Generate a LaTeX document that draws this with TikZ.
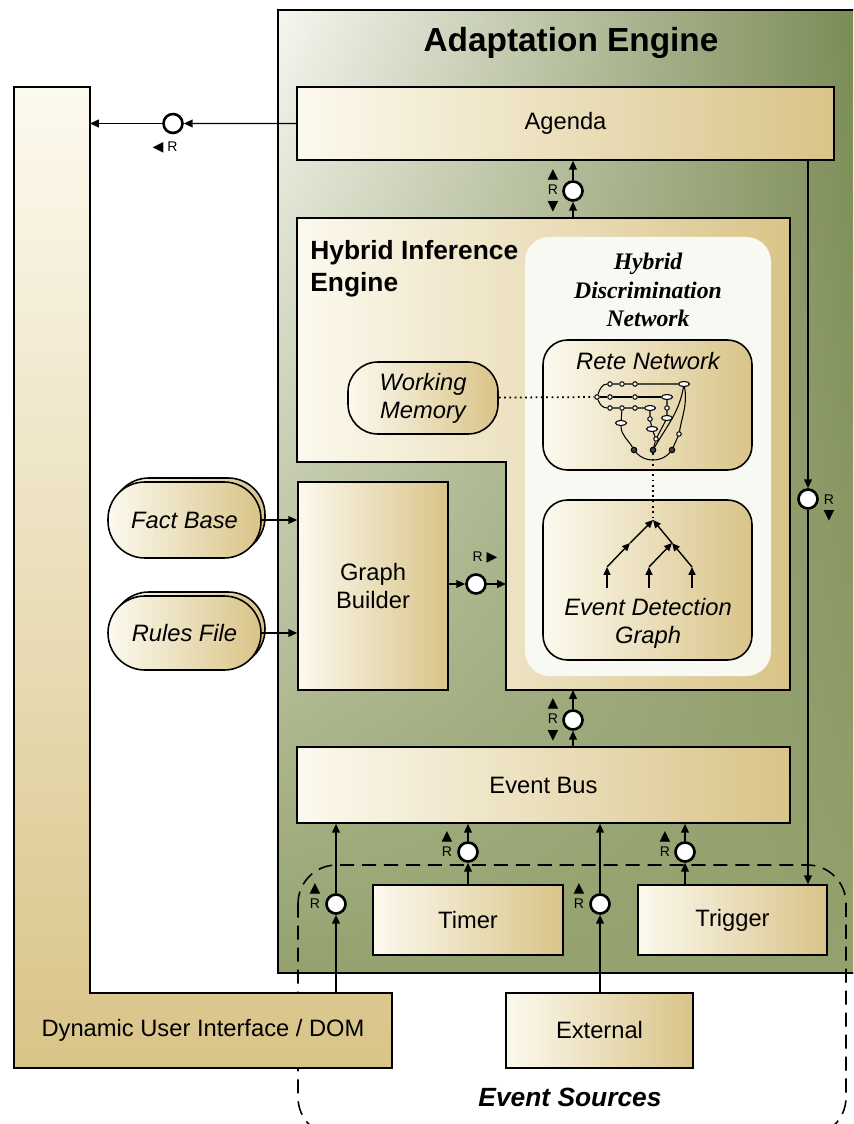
\documentclass[tikz,border=0pt]{standalone}
\usepackage{fontspec}
\setmainfont{Liberation Sans}
\newfontfamily\netfont{Liberation Serif}
\newfontfamily\symfont{DejaVu Sans}
\usetikzlibrary{arrows.meta,fit,fadings,shapes.geometric}

\definecolor{creamc}{RGB}{252,249,238}
\definecolor{tanc}{RGB}{217,196,136}
\definecolor{olivec}{RGB}{148,162,110}
\definecolor{olivedark}{RGB}{120,137,82}
\definecolor{enginelight}{RGB}{247,247,240}
\definecolor{netwhite}{RGB}{249,249,243}

\newcommand{\boxfont}{\fontsize{13.5}{16}\selectfont}
\newcommand{\triup}{{\symfont\fontsize{8}{9}\selectfont ▲}}
\newcommand{\tridown}{{\symfont\fontsize{8}{9}\selectfont ▼}}
\newcommand{\trileft}{{\symfont\fontsize{8}{9}\selectfont ◀}}
\newcommand{\triright}{{\symfont\fontsize{8}{9}\selectfont ▶}}

\begin{document}
\begin{tikzpicture}[x=0.02cm, y=-0.02cm,
  box/.style={draw, line width=0.9pt, left color=creamc, right color=tanc, inner sep=0pt},
  soft/.style={box, rounded corners=14pt},
  txt/.style={font=\boxfont, align=center},
  iface/.style={circle, draw, fill=white, line width=1.5pt, minimum size=0.38cm, inner sep=0pt},
  conn/.style={line width=0.8pt, -{Triangle[length=5pt,width=4.4pt]}},
  lbl/.style={inner sep=0pt, align=center, font=\fontsize{8}{9}\selectfont},
  rn/.style={circle, draw, fill=white, line width=0.6pt, minimum size=0.09cm, inner sep=0pt},
  re/.style={ellipse, draw, fill=white, line width=0.6pt, minimum width=0.22cm, minimum height=0.1cm, inner sep=0pt},
  rb/.style={circle, draw, fill=black!75, line width=0.6pt, minimum size=0.11cm, inner sep=0pt},
  redge/.style={line width=0.6pt},
  egraph/.style={line width=0.8pt, -{Triangle[length=4.5pt,width=4pt]}}]

  \useasboundingbox (0,0) rectangle (853,1124);
  \clip (0,0) rectangle (853,1124);

  % adaptation engine
  \shade[left color=enginelight, right color=olivedark] (278,10) rectangle (870,973);
  \fill[olivec, path fading=north] (278,10) rectangle (870,973);
  \draw[line width=1pt] (870,10) -- (278,10) -- (278,973) -- (870,973);
  \node[font=\bfseries\fontsize{19}{22}\selectfont] (title) at (571,43) {Adaptation Engine};

  % event sources
  \draw[line width=0.9pt, dash pattern=on 8pt off 4.5pt, rounded corners=22pt]
    (298,865) rectangle (846,1136);
  \node[font=\bfseries\itshape\fontsize{15}{18}\selectfont] (srcs) at (570,1097) {Event Sources};

  % user interface
  \draw[line width=0.9pt, top color=creamc, bottom color=tanc]
    (14,87) -- (90,87) -- (90,993) -- (392,993) -- (392,1068) -- (14,1068) -- cycle;
  \node[txt] (dom) at (203,1030) {Dynamic User Interface / DOM};
  \coordinate (domIn) at (90,123.5);
  \coordinate (domTop) at (336,993);

  \node[box, fit={(297,87) (834,160)}] (agenda) {};
  \node[txt] (agendatext) at (agenda) {Agenda};

  % hybrid inference engine
  \draw[line width=0.9pt, left color=creamc, right color=tanc]
    (297,218) -- (790,218) -- (790,690) -- (506,690) -- (506,462) -- (297,462) -- cycle;
  \node[anchor=north west, inner sep=0pt, align=left, font=\bfseries\fontsize{15}{18}\selectfont]
    (hietitle) at (310,240) {Hybrid Inference\\Engine};
  \coordinate (hieTop) at (573,218);
  \coordinate (hieBot) at (573,690);
  \coordinate (hieLeft) at (506,584);

  \node[fill=netwhite, rounded corners=14pt, inner sep=0pt, fit={(525,237) (771,676)}] (hdn) {};
  \node[font=\netfont\bfseries\itshape\fontsize{13.5}{16}\selectfont, align=center]
    (hdntitle) at (648,290) {Hybrid\\Discrimination\\Network};

  \node[soft, fit={(543,340) (752,470)}] (rete) {};
  \node[txt, font=\itshape\boxfont] (retetitle) at (648,361) {Rete Network};
  \node[soft, fit={(543,500) (752,660)}] (edg) {};
  \node[txt, font=\itshape\boxfont] (edgtitle) at (648,623) {Event Detection\\Graph};

  \node[box, rounded corners=17pt, fit={(348,362) (498,434)}] (wm) {};
  \node[txt, font=\itshape\boxfont] (wmtext) at (wm) {Working\\Memory};

  % rete network
  \node[rn] (r0) at (597,397) {};
  \node[rn] (a1) at (610,384) {};
  \node[rn] (a2) at (622,384) {};
  \node[rn] (a3) at (635,384) {};
  \node[re] (a4) at (684,384) {};
  \node[rn] (b1) at (610,397) {};
  \node[rn] (b2) at (635,397) {};
  \node[re] (b3) at (667,397) {};
  \node[rn] (c1) at (610,408) {};
  \node[rn] (c2) at (622,408) {};
  \node[rn] (c3) at (635,408) {};
  \node[re] (c4) at (650,408) {};
  \node[rn] (c5) at (667,408) {};
  \node[re] (d1) at (621,423) {};
  \node[rn] (d2) at (650,419) {};
  \node[re] (d3) at (667,418) {};
  \node[re] (e1) at (652,429) {};
  \node[rn] (f1) at (656,439) {};
  \node[rn] (f2) at (679,434) {};
  \node[rb] (g1) at (634,450) {};
  \node[rb] (g2) at (653,450) {};
  \node[rb] (g3) at (672,450) {};
  \draw[redge] (r0) to[out=70,in=180] (a1) (a1) -- (a2) -- (a3) -- (a4);
  \draw[redge] (r0) -- (b1) -- (b2) -- (b3);
  \draw[redge] (r0) to[out=-70,in=180] (c1) (c1) -- (c2) -- (c3) -- (c4);
  \draw[redge] (c2) -- (d1) (d1) to[out=-90,in=120] (g1);
  \draw[redge] (c4) -- (d2) -- (e1) -- (f1) -- (g2);
  \draw[redge] (b3) -- (c5) -- (d3) -- (f1);
  \draw[redge] (a4) to[out=-80,in=80] (f2) (f2) -- (g3);
  \draw[redge] (a4) to[out=-100,in=60] (g2);
  \draw[redge] (g1) to[out=-50,in=-130] (g3);

  % event detection graph
  \coordinate (eTop) at (653,520);
  \coordinate (eMid) at (672,543);
  \coordinate (eLeft) at (630,543);
  \coordinate (l1) at (607,567);
  \coordinate (l2) at (649,567);
  \coordinate (l3) at (692,567);
  \draw[egraph] (607,588) -- (l1);
  \draw[egraph] (649,588) -- (l2);
  \draw[egraph] (692,588) -- (l3);
  \draw[egraph] (l1) -- (eLeft);
  \draw[egraph] (eLeft) -- (eTop);
  \draw[egraph] (l2) -- (eMid);
  \draw[egraph] (l3) -- (eMid);
  \draw[egraph] (eMid) -- (eTop);

  \draw[dotted, line width=1pt] (wm) -- (r0);
  \draw[dotted, line width=1pt] (g2) -- (eTop);

  % inputs
  \node[box, rounded corners=21pt, fit={(112,478) (265,554)}] (factsback) {};
  \node[box, rounded corners=21pt, fit={(108,482) (261,558)}] (facts) {};
  \node[txt, font=\itshape\boxfont] (factstext) at (facts) {Fact Base};
  \node[box, rounded corners=21pt, fit={(112,592) (265,666)}] (rulesback) {};
  \node[box, rounded corners=21pt, fit={(108,596) (261,670)}] (rules) {};
  \node[txt, font=\itshape\boxfont] (rulestext) at (rules) {Rules File};
  \node[box, fit={(298,482) (448,690)}] (gb) {};
  \node[txt] (gbtext) at (gb) {Graph\\Builder};
  \draw[conn] (facts.east) -- (facts.east -| gb.west);
  \draw[conn] (rules.east) -- (rules.east -| gb.west);

  \node[box, fit={(297,747) (790,823)}] (bus) {};
  \node[txt] (bustext) at (bus) {Event Bus};
  \node[box, fit={(373,885) (563,955)}] (timer) {};
  \node[txt] (timertext) at (timer) {Timer};
  \node[box, fit={(638,885) (827,955)}] (trigger) {};
  \node[txt] (triggertext) at (trigger) {Trigger};
  \node[box, fit={(506,993) (693,1068)}] (external) {};
  \node[txt] (externaltext) at (external) {External};

  % required interfaces
  \node[iface] (rAg) at (173,123.5) {};
  \draw[conn] (agenda) -- (rAg);
  \draw[conn] (rAg) -- (domIn);
  \node[lbl] (lAg) at (165,148) {\trileft\ R};

  \node[iface] (rHA) at (573,191) {};
  \draw[conn] (hieTop) -- (rHA);
  \draw[conn] (rHA) -- (rHA |- agenda.south);
  \node[lbl] (lHA) at (553,191) {\triup\\R\\\tridown};

  \node[iface] (rTr) at (808,499) {};
  \draw[conn] (agenda.south -| rTr) -- (rTr);
  \draw[conn] (rTr) -- (rTr |- trigger.north);
  \node[lbl] (lTr) at (829,508) {R\\\tridown};

  \node[iface] (rGB) at (476,584) {};
  \draw[conn] (gb.east |- rGB) -- (rGB);
  \draw[conn] (rGB) -- (hieLeft);
  \node[lbl] (lGB) at (485,558) {R\ \triright};

  \node[iface] (rHB) at (573,720) {};
  \draw[conn] (rHB |- bus.north) -- (rHB);
  \draw[conn] (rHB) -- (hieBot);
  \node[lbl] (lHB) at (553,720) {\triup\\R\\\tridown};

  \node[iface] (rTi) at (468,852) {};
  \draw[conn] (timer) -- (rTi);
  \draw[conn] (rTi) -- (rTi |- bus.south);
  \node[lbl] (lTi) at (447,844) {\triup\\R};

  \node[iface] (rTg) at (685,852) {};
  \draw[conn] (trigger.north -| rTg) -- (rTg);
  \draw[conn] (rTg) -- (rTg |- bus.south);
  \node[lbl] (lTg) at (665,844) {\triup\\R};

  \node[iface] (rDm) at (336,904) {};
  \draw[conn] (domTop) -- (rDm);
  \draw[conn] (rDm) -- (rDm |- bus.south);
  \node[lbl] (lDm) at (315,896) {\triup\\R};

  \node[iface] (rEx) at (600,904) {};
  \draw[conn] (external.north -| rEx) -- (rEx);
  \draw[conn] (rEx) -- (rEx |- bus.south);
  \node[lbl] (lEx) at (579,896) {\triup\\R};
\end{tikzpicture}
\end{document}
